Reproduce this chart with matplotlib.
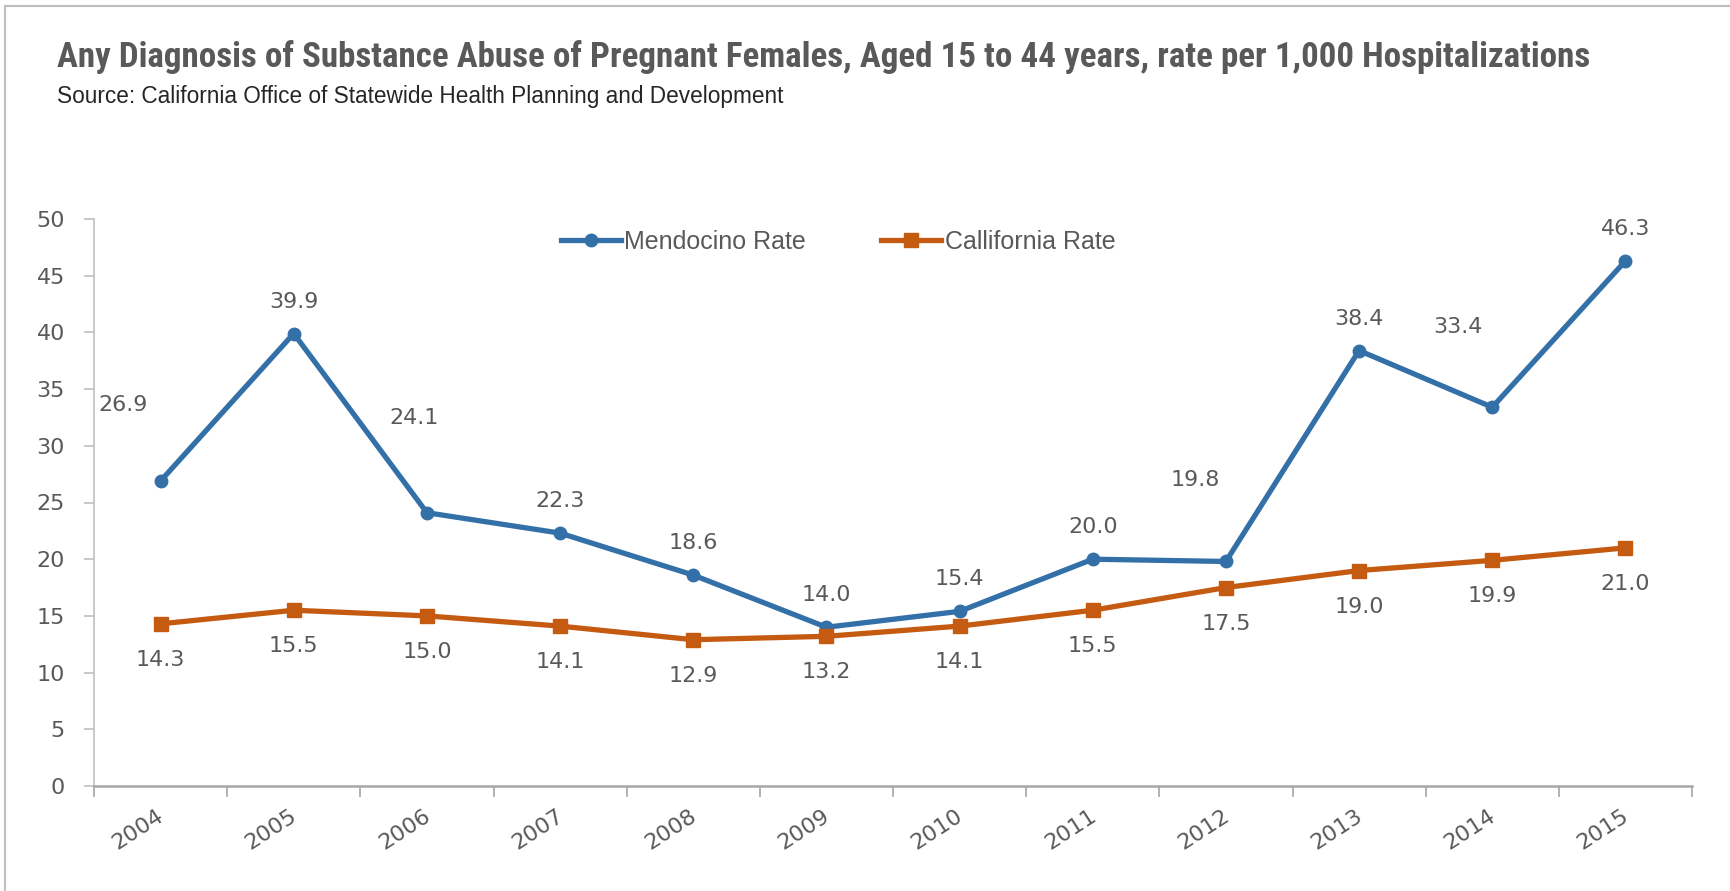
import matplotlib
matplotlib.use('Agg')
import matplotlib.pyplot as plt
from matplotlib.lines import Line2D
from matplotlib import font_manager
from matplotlib.transforms import ScaledTranslation

years = ['2004', '2005', '2006', '2007', '2008', '2009', '2010', '2011', '2012', '2013', '2014', '2015']
mendocino = [26.9, 39.9, 24.1, 22.3, 18.6, 14.0, 15.4, 20.0, 19.8, 38.4, 33.4, 46.3]
california = [14.3, 15.5, 15.0, 14.1, 12.9, 13.2, 14.1, 15.5, 17.5, 19.0, 19.9, 21.0]

title = 'Any Diagnosis of Substance Abuse of Pregnant Females, Aged 15 to 44 years, rate per 1,000 Hospitalizations'
subtitle = 'Source: California Office of Statewide Health Planning and Development'

# label offsets in points (most are just above / below the marker)
mend_offsets = {0: (-27, 55), 2: (-9, 68), 8: (-22, 59), 10: (-25, 58)}

names = set(f.name for f in font_manager.fontManager.ttflist)
narrow = 'Liberation Sans'
for cand in ['Liberation Sans Narrow', 'Roboto Condensed', 'Open Sans Condensed', 'Roboto']:
    if cand in names:
        narrow = cand
        break

blue = '#3470A8'
orange = '#C55A11'
grey = '#595959'

fig = plt.figure(figsize=(17.3, 8.91), dpi=100)
ax = fig.add_axes([94 / 1730, 105 / 891, (1692 - 94) / 1730, (786 - 219) / 891])

x = list(range(len(years)))
ax.plot(x, mendocino, color=blue, lw=3.8, marker='o', ms=9, label='Mendocino Rate')
ax.plot(x, california, color=orange, lw=3.8, marker='s', ms=9.5, label='Callifornia Rate')

for i, v in enumerate(mendocino):
    off = mend_offsets.get(i, (0, 23))
    ax.annotate('%.1f' % v, (i, v), xytext=off, textcoords='offset points',
                ha='center', va='center', fontsize=16, color=grey)
for i, v in enumerate(california):
    ax.annotate('%.1f' % v, (i, v), xytext=(0, -26), textcoords='offset points',
                ha='center', va='center', fontsize=16, color=grey)

ax.set_xlim(-0.5, len(years) - 0.5)
ax.set_ylim(0, 50)
ax.set_yticks(range(0, 51, 5))
ax.tick_params(axis='y', labelsize=16, labelcolor=grey, color='#bfbfbf', length=7, width=1.2, pad=14)

ax.set_xticks(x)
ax.set_xticklabels(years, rotation=33, ha='right', va='top')
ax.set_xticks([i - 0.5 for i in range(len(years) + 1)], minor=True)
ax.tick_params(axis='x', which='major', length=0, labelsize=16, labelcolor=grey, pad=14)
ax.tick_params(axis='x', which='minor', length=8, width=1.2, color='#a6a6a6')
shift = ScaledTranslation(5 / 72, 0, fig.dpi_scale_trans)
for lbl in ax.get_xticklabels():
    lbl.set_transform(lbl.get_transform() + shift)

for s in ['top', 'right']:
    ax.spines[s].set_visible(False)
ax.spines['left'].set_color('#bfbfbf')
ax.spines['left'].set_linewidth(1.2)
ax.spines['bottom'].set_color('#a6a6a6')
ax.spines['bottom'].set_linewidth(1.8)

leg = ax.legend(loc='center', bbox_to_anchor=(838 / 1730, 649 / 891), bbox_transform=fig.transFigure,
                ncol=2, frameon=False, handlelength=2.4, handletextpad=0.15, columnspacing=3.0,
                prop={'family': 'Liberation Sans', 'size': 18})
for t in leg.get_texts():
    t.set_color(grey)

t = fig.text(57 / 1730, 1 - 57 / 891, title, fontsize=25, fontweight='bold', family=narrow,
             color=grey, ha='left', va='center')
# fit the title to the width it has in the original (57..1591 px)
fig.canvas.draw()
w = t.get_window_extent().width
t.set_fontsize(25 * 1534 / w)

fig.text(57 / 1730, 1 - 97 / 891, subtitle, fontsize=16.3, family='Liberation Sans',
         color='#262626', ha='left', va='center')

# outer chart frame (only top and left edges are visible)
fig.add_artist(Line2D([5 / 1730, 5 / 1730], [0, 1 - 6 / 891], transform=fig.transFigure, color='#bfbfbf', lw=1.5))
fig.add_artist(Line2D([5 / 1730, 1], [1 - 6 / 891, 1 - 6 / 891], transform=fig.transFigure, color='#bfbfbf', lw=1.5))

fig.savefig('out.png', dpi=100)
